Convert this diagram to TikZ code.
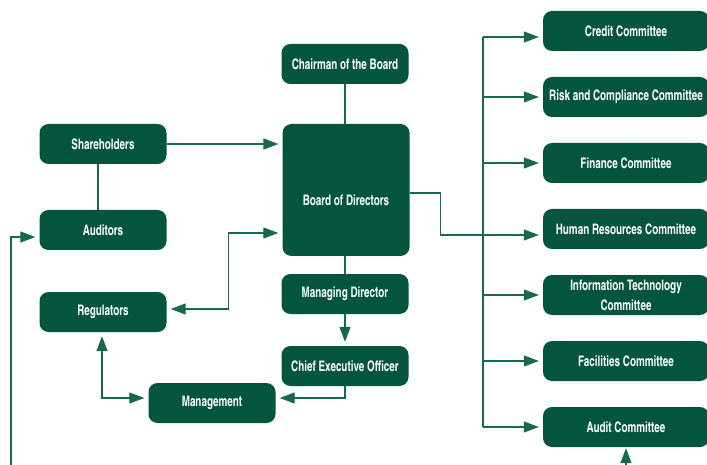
\documentclass[tikz,border=0pt]{standalone}
\usepackage{fontspec}
\setsansfont{texgyreheroscn}[Extension=.otf,UprightFont=*-regular,BoldFont=*-bold,FakeStretch=0.83]
\usetikzlibrary{arrows.meta}
\definecolor{boardgreen}{HTML}{03553D}
\definecolor{linegreen}{HTML}{17684E}
\tikzset{
  unit/.style={rectangle,rounded corners=9pt,fill=boardgreen,minimum width=127pt,minimum height=40pt,
               inner sep=2pt,align=center,text=white,font=\sffamily\bfseries\fontsize{14.5}{20}\selectfont},
  committee/.style={unit,minimum width=166pt},
  link/.style={draw=linegreen,line width=1.1pt},
  flow/.style={link,-{Triangle[length=15pt,width=11pt]},shorten >=4pt},
  twoway/.style={link,{Triangle[length=15pt,width=11pt]}-{Triangle[length=15pt,width=11pt]},
                 shorten >=4pt,shorten <=4pt},
}
\begin{document}
\begin{tikzpicture}[x=1pt,y=-1pt]
  \useasboundingbox (0,0) rectangle (707,465);
  % left and middle column (pixel positions, y running down)
  \node[unit] (chair) at (345,64) {Chairman of the Board};
  \node[unit,minimum height=132pt] (board) at (346,190) {\raisebox{-16pt}[0pt][0pt]{Board of Directors}};
  \node[unit] (share) at (103,144) {Shareholders};
  \node[unit] (audit) at (103,230) {Auditors};
  \node[unit] (reg) at (103,312) {Regulators};
  \node[unit] (md) at (345,294) {Managing Director};
  \node[unit] (ceo) at (345,366) {Chief Executive Officer};
  \node[unit] (mgmt) at (212,403) {Management};
  % committees, one every 66px down the right edge
  \foreach \n/\lab [count=\k from 0] in {credit/{Credit Committee},risk/{Risk and Compliance Committee},
      finance/{Finance Committee},hr/{Human Resources Committee},
      it/{Information Technology\\Committee},facil/{Facilities Committee},auditc/{Audit Committee}}{
    \node[committee] (\n) at (626,31+66*\k) {\lab};
  }
  \coordinate (bustop) at (483,37);
  \coordinate (busbot) at (483,427);
  \coordinate (audfeed) at (11,465);
  \coordinate (acfeed) at (626,465);

  \draw[link] (chair.south) -- (chair.south |- board.north);
  \draw[link] (md.north |- board.south) -- (md.north);
  \draw[link] ([xshift=-5pt]share.south) -- ([xshift=-5pt]audit.north);
  \draw[flow] (share.east) -- (share.east -| board.west);
  \draw[flow] (md.south) -- (ceo.north);
  \draw[flow] (ceo.south) |- ([yshift=5pt]mgmt.east);
  \draw[twoway] ([yshift=3pt]reg.east) -- ++(62,0) |- ([yshift=-43pt]board.west);
  \draw[twoway] ([xshift=-1pt]reg.south) |- ([yshift=5pt]mgmt.west);
  \draw[flow] (audfeed) |- ([yshift=-7pt]audit.west);

  % board out to the committee bus
  \draw[flow] ([yshift=-3pt]board.east) -- ++(31,0) |- ([yshift=-6pt]hr.west);
  \draw[link] (bustop) -- (busbot);
  \draw[flow] (bustop) -- (bustop -| credit.west);
  \foreach \n in {risk,finance,it,facil,auditc}{\draw[flow] (busbot |- \n.west) -- (\n.west);}
  \draw[flow,shorten >=1pt] (acfeed) -- (auditc.south);
\end{tikzpicture}
\end{document}
